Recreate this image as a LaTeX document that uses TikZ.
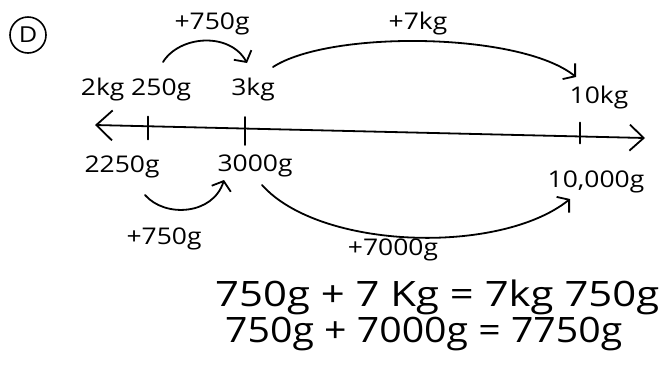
\documentclass[tikz,border=0pt]{standalone}
\usepackage{fontspec}
\setmainfont{Open Sans}[FakeStretch=1.15]
\usetikzlibrary{arrows.meta}
\begin{document}
\begin{tikzpicture}[x=1pt,y=-1pt,
  lbl/.style={inner sep=0pt,font=\fontsize{23}{25}\selectfont},
  eq/.style={inner sep=0pt,anchor=west,font=\fontsize{35}{37}\selectfont},
  ink/.style={line width=1.8pt,line cap=round},
  hop/.style={ink,-{Straight Barb[length=8pt,width=20pt,line width=1.8pt]}},
  tick/.style={ink}]
\useasboundingbox (0,0) rectangle (659,365);
% circled label
\node[draw,circle,line width=1.6pt,minimum size=36pt,inner sep=0pt,font=\fontsize{22}{22}\selectfont] (tag) at (28,35) {D};
% number line
\coordinate (L) at (95,125);
\coordinate (R) at (645,138);
\draw[ink,{Straight Barb[length=16pt,width=30pt,line width=1.8pt]}-{Straight Barb[length=14pt,width=26pt,line width=1.8pt]}] (L) -- (R);
\coordinate (t1) at (148,126.5);
\coordinate (t2) at (245,129);
\coordinate (t3) at (580,136.5);
\draw[tick] ([yshift=-13pt]t1) -- ([yshift=10pt]t1);
\draw[tick] ([yshift=-16pt]t2) -- ([yshift=12pt]t2);
\draw[tick] ([yshift=-7pt]t3) -- ([yshift=14pt]t3);
% labels above
\node[lbl] (a1) at (136,90) {2kg 250g};
\node[lbl] (a2) at (253,90) {3kg};
\node[lbl] (a3) at (599,98) {10kg};
% labels below
\node[lbl] (b1) at (122,167) {2250g};
\node[lbl] (b2) at (255,166) {3000g};
\node[lbl] (b3) at (596,182) {10,000g};
% hop labels
\node[lbl] (h1) at (212,24) {+750g};
\node[lbl] (h2) at (418,24) {+7kg};
\node[lbl] (h3) at (164,239) {+750g};
\node[lbl] (h4) at (393,250) {+7000g};
% hops
\draw[hop] (163,62) .. controls (180,35) and (230,32) .. (247,63);
\draw[hop] (273,67) .. controls (330,30) and (520,32) .. (576,77);
\draw[hop] (145,195) .. controls (165,218) and (213,215) .. (224,180);
\draw[hop] (262,185) .. controls (320,250) and (500,255) .. (570,199);
% equations
\node[eq] (e1) at (215,297) {\scalebox{1.04}[1]{750g + 7 Kg = 7kg 750g}};
\node[eq] (e2) at (225,334) {\scalebox{0.975}[1]{750g + 7000g = 7750g}};
\end{tikzpicture}
\end{document}
